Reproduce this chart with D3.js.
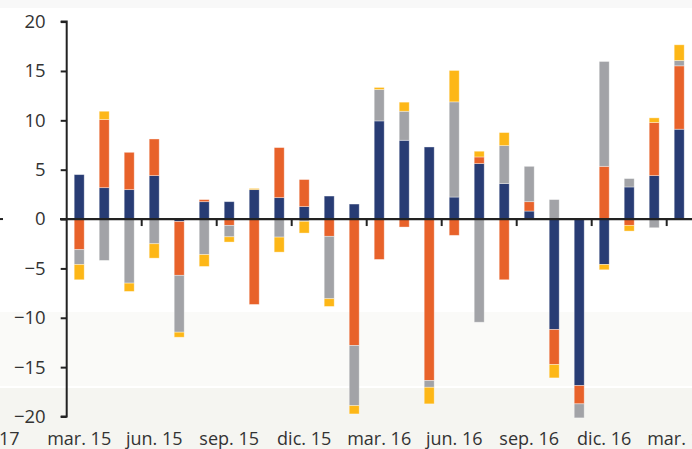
<!DOCTYPE html>
<html>
<head>
<meta charset="utf-8">
<script src="https://cdn.jsdelivr.net/npm/d3@7"></script>
<style>
  html, body { margin: 0; padding: 0; background: #ffffff; }
  svg { display: block; }
  text { font-family: "Open Sans", Lato, sans-serif; fill: #333; }
</style>
</head>
<body>
<svg id="chart" width="692" height="449"></svg>
<script>
// ---- data ----
const periods = ["mar. 15","abr. 15","may. 15","jun. 15","jul. 15","ago. 15","sep. 15","oct. 15","nov. 15","dic. 15","ene. 16","feb. 16","mar. 16","abr. 16","may. 16","jun. 16","jul. 16","ago. 16","sep. 16","oct. 16","nov. 16","dic. 16","ene. 17","feb. 17","mar. 17"];
const tickLabels = ["mar. 15","jun. 15","sep. 15","dic. 15","mar. 16","jun. 16","sep. 16","dic. 16","mar. 17"];
const seriesNames = ["s1","s2","s3","s4"];
const s1 = [4.5, 3.18, 2.98, 4.4, -0.25, 1.76, 1.76, 2.98, 2.17, 1.26, 2.33, 1.52, 9.94, 7.98, 7.3, 2.23, 5.62, 3.59, 0.81, -11.19, -16.87, -4.6, 3.25, 4.4, 9.1];
const s2 = [-3.1, 6.9, 3.78, 3.71, -5.45, 0.21, -0.64, -8.65, 5.07, 2.74, -1.75, -12.81, -4.09, -0.81, -16.36, -1.65, 0.67, -6.15, 0.95, -3.55, -1.85, 5.34, -0.64, 5.38, 6.42];
const s3 = [-1.5, -4.19, -6.49, -2.5, -5.76, -3.6, -1.16, 0, -1.83, -0.23, -6.32, -6.09, 3.18, 2.94, -0.68, 9.64, -10.45, 3.85, 3.58, 1.97, -1.42, 10.62, 0.85, -0.88, 0.54];
const s4 = [-1.55, 0.84, -0.84, -1.46, -0.51, -1.2, -0.53, 0.12, -1.52, -1.19, -0.78, -0.84, 0.21, 0.92, -1.68, 3.18, 0.58, 1.32, 0, -1.35, 0, -0.54, -0.58, 0.47, 1.59];
const yTicks = [-20, -15, -10, -5, 0, 5, 10, 15, 20];
const colors = ["#283c74", "#e8622a", "#a2a3a7", "#fdb717"];

// ---- layout ----
const svg = d3.select("#chart");
const W = 692, H = 449;
const x0 = 66.7, bandW = 25;

// background bands
svg.append("rect").attr("x",0).attr("y",0).attr("width",W).attr("height",8).attr("fill","#f8f8f8");
svg.append("rect").attr("x",0).attr("y",312).attr("width",W).attr("height",74).attr("fill","#fafaf8");
svg.append("rect").attr("x",0).attr("y",388).attr("width",W).attr("height",H-388).attr("fill","#f5f5f1");

const x = d3.scaleBand().domain(periods).range([x0, x0 + bandW * periods.length]).paddingInner(0.6).paddingOuter(0.3);
const y = d3.scaleLinear().domain([-20, 20]).range([416.5, 21.6]);

const table = periods.map((p, i) => ({ period: p, s1: s1[i], s2: s2[i], s3: s3[i], s4: s4[i] }));
const stack = d3.stack().keys(seriesNames).offset(d3.stackOffsetDiverging);
const layers = stack(table);

const g = svg.append("g");
layers.forEach((layer, li) => {
  g.selectAll(null).data(layer.filter(d => d[1] !== d[0])).enter().append("rect")
    .attr("x", d => x(d.data.period))
    .attr("width", x.bandwidth())
    .attr("y", d => y(Math.max(d[0], d[1])))
    .attr("height", d => Math.abs(y(d[0]) - y(d[1])))
    .attr("fill", colors[li])
    .attr("stroke", "rgba(255,255,255,0.45)")
    .attr("stroke-width", 0.8);
});

// y axis
const yAxis = d3.axisLeft(y).tickValues(yTicks).tickSize(6).tickPadding(15).tickFormat(d3.format("d"));
const ya = svg.append("g").attr("transform", `translate(${x0},0)`).call(yAxis);
ya.select(".domain").attr("stroke", "#222").attr("stroke-width", 2).attr("d", `M-6,${y(20)}H0V${y(-20)}H-6`);
ya.selectAll(".tick line").attr("stroke", "#222").attr("stroke-width", 2);
ya.selectAll(".tick text").attr("font-size", 18.5).attr("fill", "#333").style("font-family", "'Open Sans', sans-serif");

// zero line
svg.append("line").attr("x1", 60).attr("x2", W).attr("y1", y(0)).attr("y2", y(0)).attr("stroke", "#222").attr("stroke-width", 2.2);

// x quarter ticks
const quarterBoundaries = periods.filter((p, i) => i % 3 === 0 && i > 0);
svg.selectAll(null).data(quarterBoundaries).enter().append("line")
  .attr("x1", d => x(d) - x.step() * x.paddingInner() / 2)
  .attr("x2", d => x(d) - x.step() * x.paddingInner() / 2)
  .attr("y1", y(0)).attr("y2", y(0) + 7)
  .attr("stroke", "#222").attr("stroke-width", 2);

// x labels
svg.selectAll(null).data(tickLabels).enter().append("text")
  .attr("x", d => x(d) + x.bandwidth() / 2)
  .attr("y", 445)
  .attr("text-anchor", "middle")
  .attr("font-size", 18)
  .text(d => d);

// cropped fragments at left edge
svg.append("text").attr("x", -1).attr("y", 445).attr("font-size", 18).text("17");
svg.append("line").attr("x1", 0).attr("x2", 3).attr("y1", y(0)).attr("y2", y(0)).attr("stroke", "#222").attr("stroke-width", 2);
</script>
</body>
</html>
